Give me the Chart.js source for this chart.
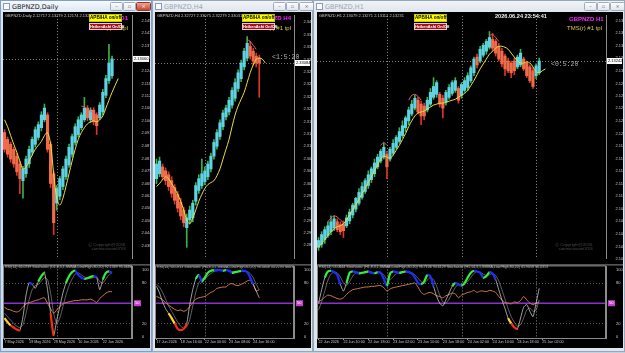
<!DOCTYPE html>
<html>
<head>
<meta charset="utf-8">
<title>GBPNZD</title>
<script src="https://cdn.jsdelivr.net/npm/chart.js@4.4.1/dist/chart.umd.min.js"></script>
<style>
  body { margin:0; width:625px; height:353px; overflow:hidden; position:relative; background:#c6d0db; font-family:"DejaVu Sans", Arial, sans-serif; }
  .win { position:absolute; top:0; height:352px; box-sizing:border-box; border:1px solid #98a7b8; background:linear-gradient(#f0f3f7, #dfe5ec 12px, #dfe5ec); }
  .win.on { border-color:#7f9fc6; background:linear-gradient(#f6f9fc, #d9e5f2 12px, #cddbea); }
  .ttl { position:absolute; left:11px; top:2px; font-size:6.5px; color:#a0a8b2; }
  .on .ttl { color:#1a1a1a; }
  .ico { position:absolute; left:2px; top:2px; width:5px; height:5px; border:1px solid #8b9bb0; background:#f6f8fa; }
  .btn { position:absolute; top:1px; width:11px; height:7px; border:1px solid #a0adbc; border-radius:1.5px; background:linear-gradient(#fbfcfd,#e1e7ee); font-size:5px; line-height:7px; text-align:center; color:#5a6473; }
  .btn.x { width:13px; }
  .on .btn.x { background:linear-gradient(#eba595,#c8432d); color:#fff; border-color:#8c3a2e; }
  .pane { position:absolute; top:12px; height:336px; background:#000; }
  canvas { position:absolute; }
  .t { position:absolute; white-space:nowrap; line-height:1; }
  .hdr { font-size:4px; color:#c8c8c8; font-family:"Liberation Sans", Arial, sans-serif; }
  .apb { background:#ffff00; color:#000; font-family:"Liberation Sans", Arial, sans-serif; font-weight:bold; font-size:4.6px; width:31px; height:5.5px; line-height:5.5px; text-align:center; border:1px solid #c8c800; }
  .ha { background:#a3121c; color:#fff; font-family:"Liberation Sans", Arial, sans-serif; font-weight:bold; font-size:3.9px; width:31px; height:5px; line-height:5px; text-align:center; border:1px solid #e6c8c8; }
  .sym { color:#ff22ff; font-weight:bold; font-size:6px; font-family:"Liberation Sans", Arial, sans-serif; }
  .tpl { color:#d8c848; font-size:6px; font-family:"Liberation Sans", Arial, sans-serif; }
  .timer { color:#b4b4b4; font-size:6.5px; font-family:"Liberation Mono", monospace; }
  .clock { color:#f2f2f2; font-weight:bold; font-size:5.6px; font-family:"Liberation Sans", Arial, sans-serif; }
  .copy { color:#4a4a4a; font-size:4.3px; font-family:"Liberation Sans", Arial, sans-serif; }
  .sub { font-size:3.6px; color:#bcbcbc; font-family:"Liberation Sans", Arial, sans-serif; }
</style>
</head>
<body>

<div class="win on" style="left:0;width:152px"><div class="ico"></div><div class="ttl">GBPNZD,Daily</div>
  <div class="btn" style="left:109px">&#8211;</div><div class="btn" style="left:122px">&#9643;</div><div class="btn x" style="left:135px">&#215;</div></div>
<div class="win" style="left:152px;width:161px"><div class="ico"></div><div class="ttl">GBPNZD,H4</div>
  <div class="btn" style="left:120px">&#8211;</div><div class="btn" style="left:133px">&#9643;</div><div class="btn x" style="left:146px">&#215;</div></div>
<div class="win" style="left:313px;width:312px"><div class="ico"></div><div class="ttl">GBPNZD,H1</div>
  <div class="btn" style="left:270px">&#8211;</div><div class="btn" style="left:283px">&#9643;</div><div class="btn x" style="left:296px">&#215;</div></div>

<div class="pane" style="left:3px;width:147px"></div>
<div class="pane" style="left:155px;width:156px"></div>
<div class="pane" style="left:317px;width:306px"></div>

<canvas id="d1main" width="147" height="250" style="left:3px;top:12px"></canvas>
<canvas id="d1sub" width="147" height="86" style="left:3px;top:262px"></canvas>
<canvas id="h4main" width="156" height="250" style="left:155px;top:12px"></canvas>
<canvas id="h4sub" width="156" height="86" style="left:155px;top:262px"></canvas>
<canvas id="h1main" width="306" height="250" style="left:317px;top:12px"></canvas>
<canvas id="h1sub" width="306" height="86" style="left:317px;top:262px"></canvas>

<!-- daily window texts -->
<div class="t hdr" style="left:5px;top:14px">GBPNZD,Daily  2.12717 2.13279 2.12174 2.13231</div>
<div class="t sym" style="right:497px;top:15px">GBPNZD D1</div>
<div class="t tpl" style="right:497px;top:25px">TMS(r) #1 tpl</div>
<div class="t apb" style="left:89px;top:14px">APB/HA on/off</div>
<div class="t ha" style="left:89px;top:23px">HeikenAshi On/Off</div>
<div class="t copy" style="left:88px;top:243px">&#9400; Copyright@2016<br>&nbsp;&nbsp;&nbsp;sanmaruwan0703</div>
<div class="t sub" style="left:5px;top:266px">RSI(14) 66.0739  Stochastic (D1,8,3,1,SMMA,Low/High,80,20) 92.1369 95.0688</div>

<!-- H4 window texts -->
<div class="t hdr" style="left:157px;top:14px">GBPNZD,H4  2.32727 2.33075 2.32279 2.33031</div>
<div class="t sym" style="right:334px;top:15px">GBPNZD H4</div>
<div class="t tpl" style="right:334px;top:25px">TMS(r) #1 tpl</div>
<div class="t apb" style="left:242px;top:14px">APB/HA on/off</div>
<div class="t ha" style="left:242px;top:23px">HeikenAshi On/Off</div>
<div class="t timer" style="left:272px;top:55px">&lt;1:5:20</div>
<div class="t sub" style="left:157px;top:266px;width:136px;overflow:hidden">RSI(14) 68.0933  Stochastic (H4,8,3,1,SMMA,Low/High,80,20) 98.4808 34.2293  Stochastic</div>

<!-- H1 window texts -->
<div class="t hdr" style="left:319px;top:14px">GBPNZD,H1  2.13079 2.13271 2.13112 2.13231</div>
<div class="t clock" style="left:495px;top:14px">2026.06.24 23:54:41</div>
<div class="t sym" style="left:569px;top:16px">GBPNZD H1</div>
<div class="t tpl" style="left:567px;top:25px">TMS(r) #1 tpl</div>
<div class="t apb" style="left:414px;top:14px">APB/HA on/off</div>
<div class="t ha" style="left:414px;top:23px">HeikenAshi On/Off</div>
<div class="t timer" style="left:551px;top:62px">&lt;0:5:20</div>
<div class="t copy" style="left:555px;top:243px">&#9400; Copyright@2016<br>&nbsp;&nbsp;&nbsp;sanmaruwan0703</div>
<div class="t sub" style="left:319px;top:266px">RSI(14) 53.0844  Stochastic (H1,8,3,1,SMMA,Low/High,80,20) 96.7106 94.6129  Stochastic (H1,14,3,1,SMMA,Low/High,80,20) 41.9058 56.0313</div>

<script>
// ---------------- Daily ----------------
var d1Open  = [2.0942,2.0908,2.0884,2.0859,2.0825,2.0787,2.0704,2.0738,2.0787,2.0845, 2.0884,2.0918,2.0966,2.1005,2.1029,2.0884,2.0738,2.0593,2.0627,2.0675, 2.0724,2.0782,2.0835,2.0893,2.0932,2.0966,2.1005,2.1063,2.1005,2.1053, 2.1029,2.1015,2.1044,2.1126,2.1199,2.1223];
var d1Close = [2.0859,2.0835,2.0811,2.0787,2.0748,2.0714,2.0762,2.0811,2.0859,2.0908, 2.0956,2.0981,2.1029,2.1063,2.0859,2.0690,2.0496,2.0665,2.0714,2.0762, 2.0811,2.0869,2.0922,2.0971,2.1005,2.1029,2.1063,2.1015,2.1053,2.0995, 2.0976,2.1078,2.1141,2.1209,2.1286,2.1306];
var d1High  = [2.0956,2.0920,2.0895,2.0870,2.0840,2.0800,2.0775,2.0825,2.0875,2.0920, 2.0970,2.0995,2.1045,2.1083,2.1040,2.0895,2.0750,2.0680,2.0725,2.0775, 2.0825,2.0885,2.0935,2.0985,2.1020,2.1040,2.1116,2.1075,2.1065,2.1065, 2.1040,2.1090,2.1155,2.1225,2.1378,2.1320];
var d1Low   = [2.0845,2.0820,2.0795,2.0770,2.0730,2.0640,2.0617,2.0720,2.0770,2.0830, 2.0870,2.0905,2.0950,2.0995,2.0845,2.0670,2.0437,2.0558,2.0610,2.0660, 2.0710,2.0770,2.0820,2.0880,2.0920,2.0955,2.0995,2.1000,2.0990,2.0980, 2.0932,2.1005,2.1030,2.1115,2.1185,2.1210];
var d1Ma    = [2.1005,2.0971,2.0927,2.0884,2.0845,2.0801,2.0762,2.0772,2.0801,2.0830, 2.0859,2.0879,2.0898,2.0927,2.0942,2.0884,2.0738,2.0617,2.0583,2.0617, 2.0675,2.0738,2.0801,2.0859,2.0908,2.0942,2.0966,2.0985,2.0995,2.1000, 2.0995,2.1005,2.1024,2.1063,2.1102,2.1141,2.1175,2.1209];
var d1Tms   = [[25, [2.1073,2.1068,2.1058,2.1048,2.1039,2.1029,2.1019]]];
var d1Ticks = [2.14950,2.14330,2.13710,2.13090,2.12470,2.11850,2.11230,2.10620,2.10000,2.09380,2.08770,2.08140,2.07520,2.06900,2.06290,2.05680,2.05060,2.04440,2.03800];
var d1Rsi    = [44,41,40,38,37,39,45,49,51,52, 54,55,57,58,50,42,35,40,45,49, 51,52,53,54,54,55,55,55,56,54, 51,57,61,65,67,67];
var d1Stoch  = [28,22,17,14,11,10,30,62,80,78, 72,82,90,95,70,35,2,25,45,65, 80,90,96,98,92,88,86,87,89,90, 88,70,85,95,97,95];
var d1Signal = [35,30,25,20,16,14,18,35,55,70, 76,78,83,88,85,65,35,20,28,45, 62,76,86,93,95,92,89,87,87,88, 89,82,80,86,92,95];
var d1Dates  = ['7 May 2026','19 May 2026','29 May 2026','10 Jun 2026','22 Jun 2026'];
var d1Seps   = [17];

// ---------------- H4 ----------------
var h4Open  = [2.30385,2.30500,2.30660,2.30568,2.30477,2.30340,2.30180,2.30019,2.29837,2.29654, 2.29242,2.29425,2.29471,2.29859,2.30111,2.30225,2.30317,2.30431,2.30614,2.30911, 2.31140,2.31369,2.31597,2.31826,2.31941,2.32101,2.32261,2.32489,2.32718,2.32993, 2.33198,2.33473,2.33359,2.33244,2.33198];
var h4Close = [2.30728,2.30797,2.30431,2.30340,2.30202,2.30042,2.29882,2.29699,2.29516,2.29356, 2.29471,2.29654,2.29814,2.30225,2.30385,2.30500,2.30568,2.30728,2.30911,2.31232, 2.31460,2.31689,2.31918,2.32032,2.32215,2.32444,2.32627,2.32855,2.33084,2.33359, 2.33541,2.33244,2.33130,2.33084,2.33084];
var h4High  = [2.30843,2.30889,2.30728,2.30637,2.30545,2.30431,2.30248,2.30088,2.29928,2.29722, 2.29562,2.29745,2.29882,2.30294,2.30477,2.30843,2.30660,2.30797,2.30980,2.31300, 2.31529,2.31758,2.31986,2.32101,2.32284,2.32512,2.32718,2.32924,2.33153,2.33427, 2.33702,2.33587,2.33427,2.33313,2.33267];
var h4Low   = [2.30271,2.30431,2.30363,2.30248,2.30111,2.29951,2.29791,2.29608,2.29425,2.29265, 2.28785,2.29333,2.29379,2.29768,2.30042,2.30157,2.30248,2.30363,2.30545,2.30843, 2.31072,2.31300,2.31529,2.31758,2.31872,2.32032,2.32192,2.32421,2.32650,2.32924, 2.33130,2.33176,2.33038,2.32993,2.32284];
var h4Ma    = [2.30202,2.30271,2.30362,2.30431,2.30385,2.30271,2.30157,2.30019,2.29859,2.29653, 2.29425,2.29333,2.29470,2.29653,2.29859,2.30019,2.30157,2.30248,2.30294,2.30339, 2.30454,2.30614,2.30843,2.31071,2.31300,2.31597,2.31872,2.32078,2.32238,2.32398, 2.32626,2.32855,2.33038,2.33175,2.33198,2.33175,2.33084];
var h4Tms   = [[30, [2.33633,2.33587,2.33496,2.33404]]];
var h4Ticks = [2.34035,2.33740,2.33460,2.33167,2.32879,2.32588,2.32298,2.32009,2.31715,2.31430,2.31140,2.30850,2.30560,2.30275,2.29980,2.29690,2.29400,2.29120,2.28830];
var h4Rsi    = [60,58,55,51,47,44,41,39,40,38, 40,45,51,56,58,59,60,63,66,68, 72,73,74,74,78,79,77,76,78,80, 83,84,78,68,70];
var h4Stoch  = [75,65,52,42,35,28,20,12,10,12, 20,48,70,86,92,82,88,95,98,99, 99,99,98,99,98,95,96,97,98,98, 96,88,78,68,58];
var h4Signal = [78,74,66,56,46,38,30,22,16,13, 15,26,46,66,80,86,86,90,94,97, 98,99,99,99,98,97,96,96,97,97, 97,94,88,78,70];
var h4Dates  = ['17 Jun 2026','18 Jun 16:00','22 Jun 00:00','23 Jun 08:00','24 Jun 16:00'];
var h4Seps   = [16];

// ---------------- H1 ----------------
var h1Open  = [2.10326,2.10372,2.10448,2.10510,2.10571,2.10633,2.10725,2.10679,2.10694,2.10663, 2.10740,2.10832,2.10924,2.11016,2.11108,2.11200,2.11293,2.11385,2.11477,2.11584, 2.11676,2.11738,2.11784,2.11707,2.11799,2.11891,2.11983,2.12075,2.12198,2.12306, 2.12413,2.12505,2.12628,2.12567,2.12536,2.12475,2.12567,2.12674,2.12720,2.12720, 2.12659,2.12597,2.12674,2.12735,2.12782,2.12812,2.12705,2.12782,2.12828,2.12935, 2.13058,2.13303,2.13242,2.13334,2.13396,2.13457,2.13580,2.13549,2.13472,2.13396, 2.13319,2.13242,2.13211,2.13242,2.13150,2.13181,2.13273,2.13211,2.13150,2.13089, 2.13012,2.13058];
var h1Close = [2.10433,2.10525,2.10602,2.10663,2.10725,2.10771,2.10602,2.10571,2.10586,2.10786, 2.10878,2.10986,2.11093,2.11185,2.11277,2.11369,2.11461,2.11554,2.11646,2.11738, 2.11830,2.11891,2.11584,2.11861,2.11953,2.12045,2.12137,2.12229,2.12352,2.12475, 2.12567,2.12659,2.12444,2.12382,2.12382,2.12628,2.12751,2.12843,2.12904,2.12567, 2.12505,2.12751,2.12828,2.12904,2.12935,2.12628,2.12874,2.12935,2.13012,2.13135, 2.13273,2.13181,2.13426,2.13488,2.13549,2.13610,2.13442,2.13365,2.13273,2.13196, 2.13119,2.13089,2.13058,2.13089,2.13303,2.13365,2.13119,2.13012,2.12935,2.12843, 2.13165,2.13242];
var h1High  = [2.10479,2.10571,2.10648,2.10725,2.10817,2.10817,2.10771,2.10725,2.10740,2.10832, 2.10924,2.11016,2.11108,2.11247,2.11339,2.11400,2.11523,2.11584,2.11707,2.11784, 2.11861,2.11953,2.11830,2.11891,2.12014,2.12075,2.12198,2.12306,2.12382,2.12521, 2.12628,2.12705,2.12674,2.12613,2.12582,2.12674,2.12812,2.12981,2.12935,2.12751, 2.12705,2.12782,2.12874,2.12935,2.12981,2.12843,2.12904,2.12981,2.13058,2.13165, 2.13303,2.13349,2.13472,2.13518,2.13580,2.13703,2.13672,2.13580,2.13518,2.13442, 2.13349,2.13288,2.13242,2.13288,2.13334,2.13426,2.13303,2.13242,2.13181,2.13135, 2.13196,2.13288];
var h1Low   = [2.10279,2.10326,2.10387,2.10479,2.10525,2.10586,2.10571,2.10525,2.10479,2.10633, 2.10694,2.10786,2.10878,2.10986,2.11078,2.11170,2.11247,2.11339,2.11431,2.11554, 2.11646,2.11707,2.11400,2.11676,2.11768,2.11861,2.11953,2.12045,2.12137,2.12244, 2.12382,2.12475,2.12413,2.12244,2.12321,2.12444,2.12536,2.12643,2.12674,2.12521, 2.12352,2.12551,2.12643,2.12705,2.12751,2.12582,2.12659,2.12751,2.12782,2.12904, 2.13012,2.13135,2.13211,2.13303,2.13349,2.13426,2.13396,2.13319,2.13242,2.13150, 2.13012,2.13058,2.12981,2.13027,2.13119,2.13150,2.13089,2.12981,2.12904,2.12812, 2.12966,2.13027];
var h1Ma    = [2.10326,2.10387,2.10448,2.10510,2.10571,2.10617,2.10648,2.10663,2.10694,2.10755, 2.10832,2.10909,2.11001,2.11078,2.11170,2.11247,2.11339,2.11431,2.11523,2.11615, 2.11707,2.11753,2.11738,2.11722,2.11768,2.11845,2.11922,2.12014,2.12106,2.12214, 2.12306,2.12382,2.12428,2.12444,2.12459,2.12490,2.12521,2.12551,2.12567,2.12582, 2.12582,2.12597,2.12613,2.12628,2.12643,2.12674,2.12705,2.12735,2.12782,2.12858, 2.12935,2.13027,2.13119,2.13196,2.13273,2.13349,2.13396,2.13442,2.13472,2.13472, 2.13457,2.13426,2.13365,2.13303,2.13242,2.13211,2.13211,2.13227,2.13211,2.13150, 2.13073,2.13058,2.13089,2.13119];
var h1Tms   = [[3, [2.10725,2.10786,2.10817,2.10801,2.10755,2.10709]], [20, [2.11922,2.11968,2.11922]], [29, [2.12628,2.12705,2.12720,2.12689,2.12628]], [55, [2.13641,2.13656,2.13610,2.13549]]];
var h1Ticks = [2.13875,2.13675,2.13480,2.13285,2.13090,2.12890,2.12695,2.12505,2.12305,2.12105,2.11915,2.11715,2.11520,2.11325,2.11125,2.10930,2.10735,2.10535,2.10340,2.10145];
var h1Rsi    = [52,55,59,62,61,59,57,56,58,63, 67,70,71,72,73,74,74,75,75,76, 76,73,68,71,73,74,75,76,77,78, 79,80,74,66,63,65,66,64,61,60, 58,61,63,65,64,58,62,64,66,67, 69,66,68,68,67,69,68,66,60,55, 51,50,49,52,51,54,60,55,50,48, 50,52];
var h1Stoch  = [50,70,88,97,98,96,92,78,68,80, 95,97,96,94,95,96,97,95,94,96, 95,86,76,94,97,96,95,96,97,96, 94,88,80,78,82,92,90,75,60,50, 46,55,65,75,80,78,76,80,88,95, 98,97,95,88,90,96,94,85,70,55, 42,28,20,14,12,28,44,48,38,30, 50,72];
var h1Signal = [40,52,68,84,93,96,95,89,80,76, 82,90,95,96,95,95,96,96,95,95, 95,92,85,85,89,94,96,96,96,96, 95,92,87,82,80,84,88,85,75,62, 52,50,56,65,73,78,78,78,82,88, 94,97,96,93,91,92,94,91,83,70, 56,42,30,22,16,18,28,40,43,38, 40,55];
var h1Dates  = ['22 Jun 2026','22 Jun 10:00','22 Jun 18:00','23 Jun 02:00','23 Jun 10:00','23 Jun 18:00','24 Jun 02:00','24 Jun 10:00','24 Jun 18:00','25 Jun 02:00'];
var h1Seps   = [22, 46, 70];

var subTicks  = [0, 20, 50, 80, 100];
var subLevels = [20, 80];

///////////////////////////////////////////////////////////////////////////////
var priceFont = { size: 4, family: 'Liberation Sans' };
var dateFont  = { size: 3.7, family: 'Liberation Sans' };

// dotted separators, level lines, current price marker, sub-window frame
var mt4Marks = {
    id: 'mt4Marks',
    beforeDatasetsDraw: function(chart, args, opts) {
        var ctx = chart.ctx, a = chart.chartArea, x = chart.scales.x, y = chart.scales.y;
        ctx.save();
        ctx.lineWidth = 1;
        ctx.setLineDash([1, 2]);
        ctx.strokeStyle = '#8e8e8e';
        (opts.seps || []).forEach(function(s) {
            var px = Math.round(x.getPixelForValue(s)) + 0.5;
            ctx.beginPath(); ctx.moveTo(px, a.top); ctx.lineTo(px, a.bottom); ctx.stroke();
        });
        ctx.strokeStyle = '#5c5c5c';
        (opts.levels || []).forEach(function(l) {
            var py = Math.round(y.getPixelForValue(l)) + 0.5;
            ctx.beginPath(); ctx.moveTo(a.left, py); ctx.lineTo(a.right, py); ctx.stroke();
        });
        if (opts.price !== undefined) {
            var pp = Math.round(y.getPixelForValue(opts.price)) + 0.5;
            ctx.strokeStyle = '#7a7a7a';
            ctx.beginPath(); ctx.moveTo(a.left, pp); ctx.lineTo(a.right, pp); ctx.stroke();
        }
        if (opts.mid !== undefined) {
            ctx.setLineDash([]);
            ctx.strokeStyle = '#8e30cc';
            ctx.lineWidth = 1.5;
            var pm = y.getPixelForValue(opts.mid);
            ctx.beginPath(); ctx.moveTo(a.left, pm); ctx.lineTo(a.right, pm); ctx.stroke();
        }
        ctx.restore();
    },
    afterDraw: function(chart, args, opts) {
        var ctx = chart.ctx, a = chart.chartArea, y = chart.scales.y;
        ctx.save();
        ctx.font = '4px "Liberation Sans"';
        ctx.textBaseline = 'middle';
        if (opts.price !== undefined) {
            var pp = y.getPixelForValue(opts.price);
            ctx.fillStyle = '#ffffff';
            ctx.fillRect(a.right + 1, pp - 3, chart.width - a.right - 2, 6);
            ctx.fillStyle = '#000000';
            ctx.fillText(opts.price.toFixed(5), a.right + 2, pp);
        }
        if (opts.mid !== undefined) {
            var pm = y.getPixelForValue(opts.mid);
            ctx.fillStyle = '#c63fcf';
            ctx.fillRect(a.right + 2, pm - 3, 7, 6);
            ctx.fillStyle = '#ffffff';
            ctx.fillText(String(opts.mid), a.right + 3, pm);
        }
        if (opts.frame) {
            ctx.strokeStyle = '#8a8a8a';
            ctx.lineWidth = 1;
            ctx.strokeRect(a.left + 0.5, a.top - 0.5, a.right - a.left - 1, a.bottom - a.top + 1);
            ctx.beginPath(); ctx.moveTo(0, a.top - 1.5); ctx.lineTo(chart.width, a.top - 1.5); ctx.stroke();
        }
        ctx.restore();
    }
};
Chart.register(mt4Marks);

function spreadTms(parts, n) {
    var out = new Array(n).fill(null);
    parts.forEach(function(p) {
        p[1].forEach(function(v, k) { out[p[0] + k] = v; });
    });
    return out;
}

function mainChart(id, o) {
    var bull = o.open.map(function(v, i) { return o.close[i] >= v; });
    new Chart(document.getElementById(id), {
        type: 'bar',
        data: {
            labels: new Array(o.slots).fill(''),
            datasets: [
                { type: 'line', data: o.ma, borderColor: '#e6de3e', borderWidth: 1, pointRadius: 0, tension: 0.35 },
                { type: 'line', data: spreadTms(o.tms, o.slots), borderColor: '#e65a78', borderWidth: 1, pointRadius: 0, tension: 0.3, spanGaps: false },
                { data: o.open.map(function(v, i) { return [v, o.close[i]]; }),
                  backgroundColor: bull.map(function(b) { return b ? '#5fd3e3' : '#ef6b4a'; }),
                  barThickness: 2.5, grouped: false },
                { data: o.low.map(function(v, i) { return [v, o.high[i]]; }),
                  backgroundColor: bull.map(function(b) { return b ? '#37b24c' : '#d93528'; }),
                  barThickness: 1, grouped: false }
            ]
        },
        options: {
            responsive: false,
            animation: false,
            layout: { padding: { top: 2, bottom: 1, left: 0, right: 0 } },
            plugins: {
                legend: { display: false },
                tooltip: { enabled: false },
                mt4Marks: { seps: o.seps, price: o.close[o.close.length - 1] }
            },
            scales: {
                x: { display: false, offset: true },
                y: {
                    position: 'right',
                    min: o.min,
                    max: o.max,
                    afterFit: function(s) { s.width = o.axis; },
                    afterBuildTicks: function(s) { s.ticks = o.ticks.map(function(v) { return { value: v }; }); },
                    ticks: { color: '#c6c6c6', font: priceFont, padding: 1.5, autoSkip: false,
                             callback: function(v) { return Number(v).toFixed(5); } },
                    grid: { display: false },
                    border: { color: '#8c8c8c' }
                }
            }
        }
    });
}

function zoneColor(c) {
    var a = c.p0.parsed.y, b = c.p1.parsed.y;
    if (a >= 75 && b >= 75) return b > a ? '#34ec3a' : '#1f2cff';
    if ((a < 25 && b < 25) || (b < a && Math.max(a, b) < 36)) return Math.min(a, b) < 15 ? '#ff2a14' : '#ffd21e';
    return 'rgba(0,0,0,0)';
}

function subChart(id, o) {
    var every = 8;
    new Chart(document.getElementById(id), {
        type: 'line',
        data: {
            labels: new Array(o.slots).fill(''),
            datasets: [
                { data: o.stoch, borderColor: 'rgba(0,0,0,0)', borderWidth: 2.2, pointRadius: 0, tension: 0.2, segment: { borderColor: zoneColor } },
                { data: o.stoch, borderColor: '#e4e4e4', borderWidth: 0.7, pointRadius: 0, tension: 0.2 },
                { data: o.signal, borderColor: '#8a8a8a', borderWidth: 0.7, pointRadius: 0, tension: 0.2 },
                { data: o.rsi, borderColor: '#d2794b', borderWidth: 1, pointRadius: 0, tension: 0.2 }
            ]
        },
        options: {
            responsive: false,
            animation: false,
            layout: { padding: { top: 2, bottom: 0, left: 0, right: 0 } },
            plugins: {
                legend: { display: false },
                tooltip: { enabled: false },
                mt4Marks: { seps: o.seps, levels: subLevels, mid: 50, frame: true }
            },
            scales: {
                x: {
                    offset: true,
                    afterFit: function(s) { s.height = 10; },
                    grid: { drawOnChartArea: false, tickLength: 2,
                            color: function(c) { return (c.index % every === 0 && c.index / every < o.dates.length) ? '#9a9a9a' : 'rgba(0,0,0,0)'; } },
                    border: { color: '#8c8c8c' },
                    ticks: { autoSkip: false, maxRotation: 0, align: 'start', padding: 0, color: '#c6c6c6', font: dateFont,
                             callback: function(v, i) { return (i % every === 0 && o.dates[i / every]) ? o.dates[i / every] : ''; } }
                },
                y: {
                    position: 'right',
                    min: -1.5,
                    max: 104.5,
                    afterFit: function(s) { s.width = o.axis; },
                    afterBuildTicks: function(s) { s.ticks = subTicks.map(function(v) { return { value: v }; }); },
                    ticks: { color: '#c6c6c6', font: priceFont, padding: 2, autoSkip: false,
                             callback: function(v) { return v === 50 ? '' : String(v); } },
                    grid: { display: false },
                    border: { color: '#8c8c8c' }
                }
            }
        }
    });
}

mainChart('d1main', { open: d1Open, close: d1Close, high: d1High, low: d1Low, ma: d1Ma, tms: d1Tms, ticks: d1Ticks,
                      seps: d1Seps, slots: 42, axis: 18, min: 2.03210, max: 2.15189 });
subChart('d1sub', { rsi: d1Rsi, stoch: d1Stoch, signal: d1Signal, dates: d1Dates, seps: d1Seps, slots: 42, axis: 18 });

mainChart('h4main', { open: h4Open, close: h4Close, high: h4High, low: h4Low, ma: h4Ma, tms: h4Tms, ticks: h4Ticks,
                      seps: h4Seps, slots: 46, axis: 17, min: 2.28533, max: 2.34182 });
subChart('h4sub', { rsi: h4Rsi, stoch: h4Stoch, signal: h4Signal, dates: h4Dates, seps: h4Seps, slots: 46, axis: 17 });

mainChart('h1main', { open: h1Open, close: h1Close, high: h1High, low: h1Low, ma: h1Ma, tms: h1Tms, ticks: h1Ticks,
                      seps: h1Seps, slots: 93, axis: 17, min: 2.10157, max: 2.13948 });
subChart('h1sub', { rsi: h1Rsi, stoch: h1Stoch, signal: h1Signal, dates: h1Dates, seps: h1Seps, slots: 93, axis: 17 });
</script>
</body>
</html>
